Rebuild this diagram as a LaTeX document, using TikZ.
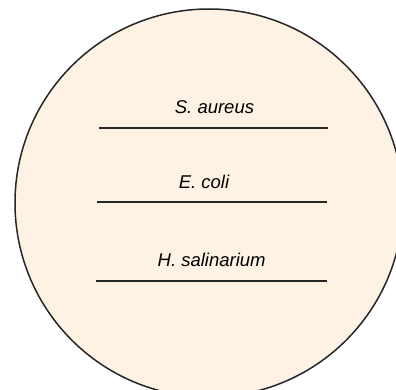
\documentclass[tikz,border=0pt]{standalone}
\usepackage{fontspec}
\setmainfont{Liberation Sans}
\usepackage{xcolor}
\usepackage{tikz}
\usetikzlibrary{positioning}
\definecolor{plate}{RGB}{254,242,229}

\begin{document}
\begin{tikzpicture}[x=1pt, y=1pt, lbl/.style={anchor=base, inner sep=0pt, font=\fontsize{18.5}{20}\selectfont\itshape}, band/.style={line width=1.4pt, black!85}]
    \useasboundingbox (0,0) rectangle (396,-390);
    \draw[line width=1.5pt, black!85, fill=plate] (209,-203) circle (194);
    \node[lbl] (sa) at (214.5,-113.3) {S. aureus};
    \node[lbl] (ec) at (204,-188.3)   {E. coli};
    \node[lbl] (hs) at (211.7,-266.7) {H. salinarium};
    \coordinate (saL) at (99,-128);  \coordinate (saR) at (328,-128);
    \coordinate (ecL) at (97,-202);  \coordinate (ecR) at (327,-202);
    \coordinate (hsL) at (96,-281);  \coordinate (hsR) at (327,-281);
    \draw[band] (saL)--(saR);
    \draw[band] (ecL)--(ecR);
    \draw[band] (hsL)--(hsR);
  \end{tikzpicture}
\end{document}
